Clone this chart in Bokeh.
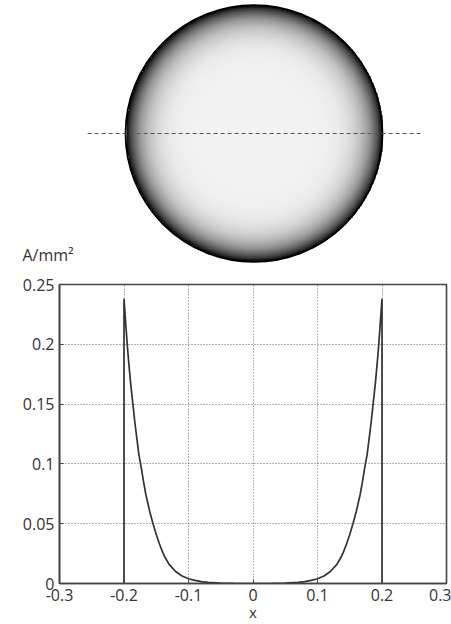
import numpy as np
from bokeh.plotting import figure
from bokeh.layouts import column
from bokeh.models import Range1d, FixedTicker, Label
from bokeh.embed import file_html
from bokeh.resources import INLINE

# ---- data ----
# current density profile along the cut line (A/mm^2) vs x
curve_x = [-0.2, -0.2, -0.197, -0.195, -0.193, -0.19, -0.186, -0.183, -0.18, -0.177,
           -0.173, -0.17, -0.166, -0.16, -0.155, -0.15, -0.145, -0.14, -0.136, -0.13,
           -0.12, -0.11, -0.10, -0.09, -0.08, -0.07, -0.05, -0.03, 0.0,
           0.03, 0.05, 0.07, 0.08, 0.09, 0.10, 0.11, 0.12, 0.13, 0.136,
           0.14, 0.145, 0.15, 0.155, 0.16, 0.166, 0.17, 0.173, 0.177, 0.18,
           0.183, 0.186, 0.19, 0.193, 0.195, 0.197, 0.2, 0.2]
curve_y = [0.0, 0.238, 0.215, 0.200, 0.187, 0.169, 0.149, 0.134, 0.121, 0.108,
           0.096, 0.086, 0.074, 0.060, 0.050, 0.041, 0.033, 0.026, 0.0215, 0.016,
           0.0100, 0.0063, 0.0040, 0.0026, 0.0016, 0.0010, 0.0004, 0.0001, 0.0,
           0.0001, 0.0004, 0.0010, 0.0016, 0.0026, 0.0040, 0.0063, 0.0100, 0.016, 0.0215,
           0.026, 0.033, 0.041, 0.050, 0.060, 0.074, 0.086, 0.096, 0.108, 0.121,
           0.134, 0.149, 0.169, 0.187, 0.200, 0.215, 0.238, 0.0]

wire_radius = 0.2
cut_line_x = [-0.259, 0.259]
cut_line_y = [0.0, 0.0]

x_ticks = [-0.3, -0.2, -0.1, 0.0, 0.1, 0.2, 0.3]
x_tick_labels = ["-0.3", "-0.2", "-0.1", "0", "0.1", "0.2", "0.3"]
y_ticks = [0.0, 0.05, 0.1, 0.15, 0.2, 0.25]
y_tick_labels = ["0", "0.05", "0.1", "0.15", "0.2", "0.25"]
unit_label = "A/mm\u00b2"
x_label = "x"

FONT = "Open Sans"
TXT = "#333333"

# ---- top: cross-section shaded by current density ----
top = figure(width=451, height=268, x_range=Range1d(-0.3946, 0.3074),
             y_range=Range1d(-0.2101, 0.2070), output_backend="svg",
             toolbar_location=None, x_axis_location=None, y_axis_location=None,
             min_border_left=0, min_border_right=0, min_border_top=0, min_border_bottom=0)
top.frame_align = False
top.grid.visible = False
top.outline_line_color = None
top.background_fill_color = "white"
top.border_fill_color = "white"

half = [i for i, v in enumerate(curve_x) if v >= 0][:-1]
rx = np.array([curve_x[i] for i in half])
ry = np.array([curve_y[i] for i in half])
N = 401
g1 = np.linspace(-wire_radius, wire_radius, N)
XX, YY = np.meshgrid(g1, g1)
R = np.hypot(XX, YY)
J = np.interp(R, rx, ry)
t = J / ry.max()
gray = 0.95 * (1 - np.clip(t, 0, 1) ** 1.3)
img = np.zeros((N, N), dtype=np.uint32)
view = img.view(dtype=np.uint8).reshape((N, N, 4))
view[..., 0] = (gray * 255).astype(np.uint8)
view[..., 1] = (gray * 255).astype(np.uint8)
view[..., 2] = (gray * 255).astype(np.uint8)
view[..., 3] = np.where(R <= wire_radius, 255, 0).astype(np.uint8)
top.image_rgba(image=[img], x=-wire_radius, y=-wire_radius, dw=2 * wire_radius, dh=2 * wire_radius)
top.circle(x=[0], y=[0], radius=wire_radius, fill_color=None, line_color="black", line_width=1.8)
top.line(cut_line_x, cut_line_y, line_color="#555555", line_width=1, line_dash="4 3")
top.add_layout(Label(x=22, y=3, x_units="screen", y_units="screen", text=unit_label,
                     text_font=FONT, text_font_size="16px", text_color=TXT))

# ---- bottom: profile plot ----
bot = figure(width=451, height=356, x_range=Range1d(-0.3, 0.3), y_range=Range1d(0, 0.25),
             output_backend="svg", toolbar_location=None,
             min_border_left=59, min_border_right=5, min_border_top=16, min_border_bottom=40)
bot.frame_align = False
bot.background_fill_color = "white"
bot.border_fill_color = "white"
bot.outline_line_color = "#444444"
bot.outline_line_width = 1.6

bot.xaxis.ticker = FixedTicker(ticks=x_ticks)
bot.yaxis.ticker = FixedTicker(ticks=y_ticks)
bot.xaxis.major_label_overrides = dict(zip(x_ticks, x_tick_labels))
bot.yaxis.major_label_overrides = dict(zip(y_ticks, y_tick_labels))
for ax in (bot.xaxis, bot.yaxis):
    ax.axis_line_color = "#444444"
    ax.axis_line_width = 1.6
    ax.major_tick_in = 4
    ax.major_tick_out = 0
    ax.minor_tick_line_color = None
    ax.major_tick_line_color = "#444444"
    ax.major_label_text_font = FONT
    ax.major_label_text_font_size = "16px"
    ax.major_label_text_color = TXT
    ax.major_label_standoff = 5
bot.xaxis.axis_label = x_label
bot.xaxis.axis_label_text_font = FONT
bot.xaxis.axis_label_text_font_style = "normal"
bot.xaxis.axis_label_text_font_size = "15px"
bot.xaxis.axis_label_text_color = TXT
bot.xaxis.axis_label_standoff = -2

bot.grid.grid_line_color = "#666666"
bot.grid.grid_line_dash = "1 2"
bot.grid.grid_line_width = 1

bot.line(curve_x, curve_y, line_color="#333333", line_width=1.7)

layout = column(top, bot, spacing=0)
open("out.html", "w").write(file_html(layout, INLINE))
